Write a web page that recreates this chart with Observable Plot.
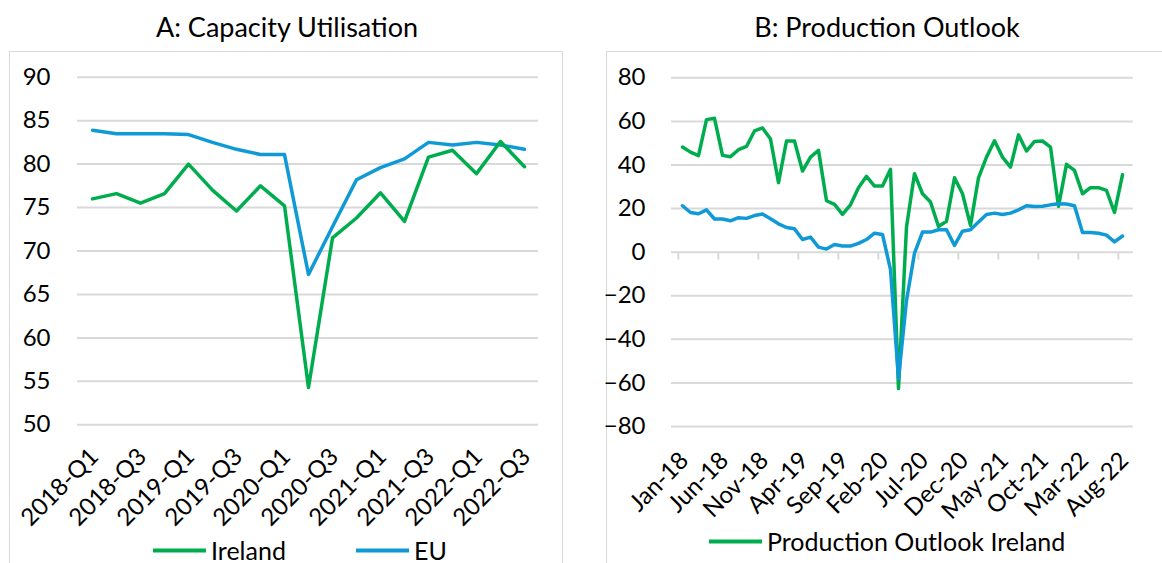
<!DOCTYPE html>
<html>
<head>
<meta charset="utf-8">
<script src="https://cdn.jsdelivr.net/npm/d3@7"></script>
<script src="https://cdn.jsdelivr.net/npm/@observablehq/plot@0.6"></script>
<style>
  body { margin: 0; background: #fff; font-family: Lato, "Open Sans", sans-serif; }
  #page { position: relative; width: 1162px; height: 563px; overflow: hidden; background: #fff; }
  .box { position: absolute; border: 1.5px solid #d9d9d9; box-sizing: border-box; }
  .title { position: absolute; font-size: 27px; color: #000; white-space: nowrap; transform: translateX(-50%); line-height: 1; }
  .legend { position: absolute; font-size: 25px; color: #000; display: flex; align-items: center; white-space: nowrap; line-height: 1; transform: translateY(-50%); }
  .sw { display: inline-block; width: 53px; height: 4px; margin-right: 5px; }
  .chart { position: absolute; top: 0; }
  .chart svg text { font-family: Lato, "Open Sans", sans-serif; }
</style>
</head>
<body>
<div id="page">
  <div class="box" style="left:9px;top:51px;width:554px;height:600px;"></div>
  <div class="box" style="left:606px;top:51px;width:600px;height:600px;"></div>
  <div class="title" style="left:287px;top:13px;">A: Capacity Utilisation</div>
  <div class="title" style="left:887px;top:13px;">B: Production Outlook</div>
  <div id="left" class="chart" style="left:0px;"></div>
  <div id="right" class="chart" style="left:590px;"></div>
  <div class="legend" style="left:153px;top:550px;"><span class="sw" style="background:#00ad4e"></span>Ireland</div>
  <div class="legend" style="left:356px;top:550px;"><span class="sw" style="background:#0f9ad6"></span>EU</div>
  <div class="legend" style="left:709px;top:541px;"><span class="sw" style="background:#00ad4e"></span>Production Outlook Ireland</div>
</div>
<script>
// ---------- Panel A: Capacity Utilisation ----------
const quarters = ["2018-Q1","2018-Q2","2018-Q3","2018-Q4","2019-Q1","2019-Q2","2019-Q3","2019-Q4",
  "2020-Q1","2020-Q2","2020-Q3","2020-Q4","2021-Q1","2021-Q2","2021-Q3","2021-Q4","2022-Q1","2022-Q2","2022-Q3"];
const irelandCU = [76.0,76.6,75.5,76.6,80.0,77.0,74.6,77.5,75.2,54.3,71.5,73.8,76.7,73.4,80.8,81.6,78.9,82.6,79.7];
const euCU      = [83.9,83.5,83.5,83.5,83.4,82.5,81.7,81.1,81.1,67.3,72.8,78.2,79.6,80.6,82.5,82.2,82.5,82.2,81.7];
const quarterTicks = ["2018-Q1","2018-Q3","2019-Q1","2019-Q3","2020-Q1","2020-Q3","2021-Q1","2021-Q3","2022-Q1","2022-Q3"];
const cuTicks = [50,55,60,65,70,75,80,85,90];

// ---------- Panel B: Production Outlook ----------
const months = ["Jan-18","Feb-18","Mar-18","Apr-18","May-18","Jun-18","Jul-18","Aug-18","Sep-18","Oct-18","Nov-18","Dec-18",
  "Jan-19","Feb-19","Mar-19","Apr-19","May-19","Jun-19","Jul-19","Aug-19","Sep-19","Oct-19","Nov-19","Dec-19",
  "Jan-20","Feb-20","Mar-20","Apr-20","May-20","Jun-20","Jul-20","Aug-20","Sep-20","Oct-20","Nov-20","Dec-20",
  "Jan-21","Feb-21","Mar-21","Apr-21","May-21","Jun-21","Jul-21","Aug-21","Sep-21","Oct-21","Nov-21","Dec-21",
  "Jan-22","Feb-22","Mar-22","Apr-22","May-22","Jun-22","Jul-22","Aug-22"];
const irelandPO = [48.2,45.9,44.3,60.8,61.4,44.4,43.8,47.0,48.5,55.6,
  57.0,51.9,31.9,51.0,51.0,37.2,43.6,46.7,23.6,21.9,
  17.3,21.7,29.6,34.8,30.3,30.3,38.0,-62.6,11.5,36.0,
  26.8,23.0,11.8,14.2,34.1,26.8,12.3,34.1,43.6,51.1,
  43.6,39.0,53.8,46.4,50.8,51.0,48.2,21.0,40.3,37.5,
  26.8,29.6,29.6,28.3,18.2,35.5];
const euPO = [21.3,18.2,17.6,19.4,15.2,15.2,14.4,15.8,15.5,16.8,
  17.5,15.3,13.0,11.3,10.7,5.8,6.9,2.3,1.4,3.5,
  2.8,2.8,4.0,5.8,8.7,8.1,-8.0,-58.0,-22.2,-0.5,
  9.2,9.2,10.3,10.3,3.1,9.6,10.3,13.8,17.3,17.9,
  17.3,17.9,19.4,21.3,21.0,21.1,21.7,22.2,22.1,21.3,
  9.0,9.0,8.7,7.8,4.7,7.4];
const monthTicks = ["Jan-18","Jun-18","Nov-18","Apr-19","Sep-19","Feb-20","Jul-20","Dec-20","May-21","Oct-21","Mar-22","Aug-22"];
const poTicks = [-80,-60,-40,-20,0,20,40,60,80];

const GREEN = "#00ad4e", BLUE = "#0f9ad6", GRID = "#d9d9d9";
const FONT = 24;

// ----- left chart -----
const L = {width: 575, height: 540, mt: 76.7, mb: 115.7, ml: 77, mr: 37};
const left = Plot.plot({
  width: L.width, height: L.height,
  marginTop: L.mt, marginBottom: L.mb, marginLeft: L.ml, marginRight: L.mr,
  style: {fontSize: FONT + "px", fontFamily: "Lato", color: "#000", background: "transparent", overflow: "visible"},
  x: {type: "point", domain: quarters, padding: 0.5},
  y: {domain: [50, 90]},
  marks: [
    Plot.ruleY(cuTicks, {stroke: GRID, strokeWidth: 2}),
    Plot.axisY({ticks: cuTicks, tickSize: 0, tickPadding: 27, label: null, fontSize: FONT}),
    Plot.axisX({ticks: quarterTicks, tickSize: 0, tickPadding: 28, tickRotate: -45, label: null, fontSize: FONT, dx: 2}),
    Plot.line(quarters, {x: d => d, y: (d, i) => euCU[i], stroke: BLUE, strokeWidth: 3.5, strokeLinejoin: "round"}),
    Plot.line(quarters, {x: d => d, y: (d, i) => irelandCU[i], stroke: GREEN, strokeWidth: 3.5, strokeLinejoin: "round"})
  ]
});
document.getElementById("left").appendChild(left);

// ----- right chart -----
const R = {width: 572, height: 540, mt: 77.3, mb: 114, ml: 81, mr: 29.3};
const plotW = R.width - R.ml - R.mr, plotH = R.height - R.mt - R.mb;
const step = plotW / months.length;
const tickLen = 8 * (poTicks[poTicks.length - 1] - poTicks[0]) / plotH;
const right = Plot.plot({
  width: R.width, height: R.height,
  marginTop: R.mt, marginBottom: R.mb, marginLeft: R.ml, marginRight: R.mr,
  style: {fontSize: FONT + "px", fontFamily: "Lato", color: "#000", background: "transparent", overflow: "visible"},
  x: {type: "point", domain: months, padding: 0.5},
  y: {domain: [-80, 80]},
  marks: [
    Plot.ruleY(poTicks, {stroke: GRID, strokeWidth: 2}),
    Plot.ruleX(monthTicks, {x: d => d, y1: 0, y2: -tickLen, stroke: GRID, strokeWidth: 2, dx: -step / 2}),
    Plot.axisY({ticks: poTicks, tickSize: 0, tickPadding: 26, label: null, fontSize: FONT}),
    Plot.axisX({ticks: monthTicks, tickSize: 0, tickPadding: 30, tickRotate: -45, label: null, fontSize: FONT, dx: 2}),
    Plot.line(months, {x: d => d, y: (d, i) => irelandPO[i], stroke: GREEN, strokeWidth: 3.5, strokeLinejoin: "round"}),
    Plot.line(months, {x: d => d, y: (d, i) => euPO[i], stroke: BLUE, strokeWidth: 3.5, strokeLinejoin: "round"})
  ]
});
document.getElementById("right").appendChild(right);
</script>
</body>
</html>
